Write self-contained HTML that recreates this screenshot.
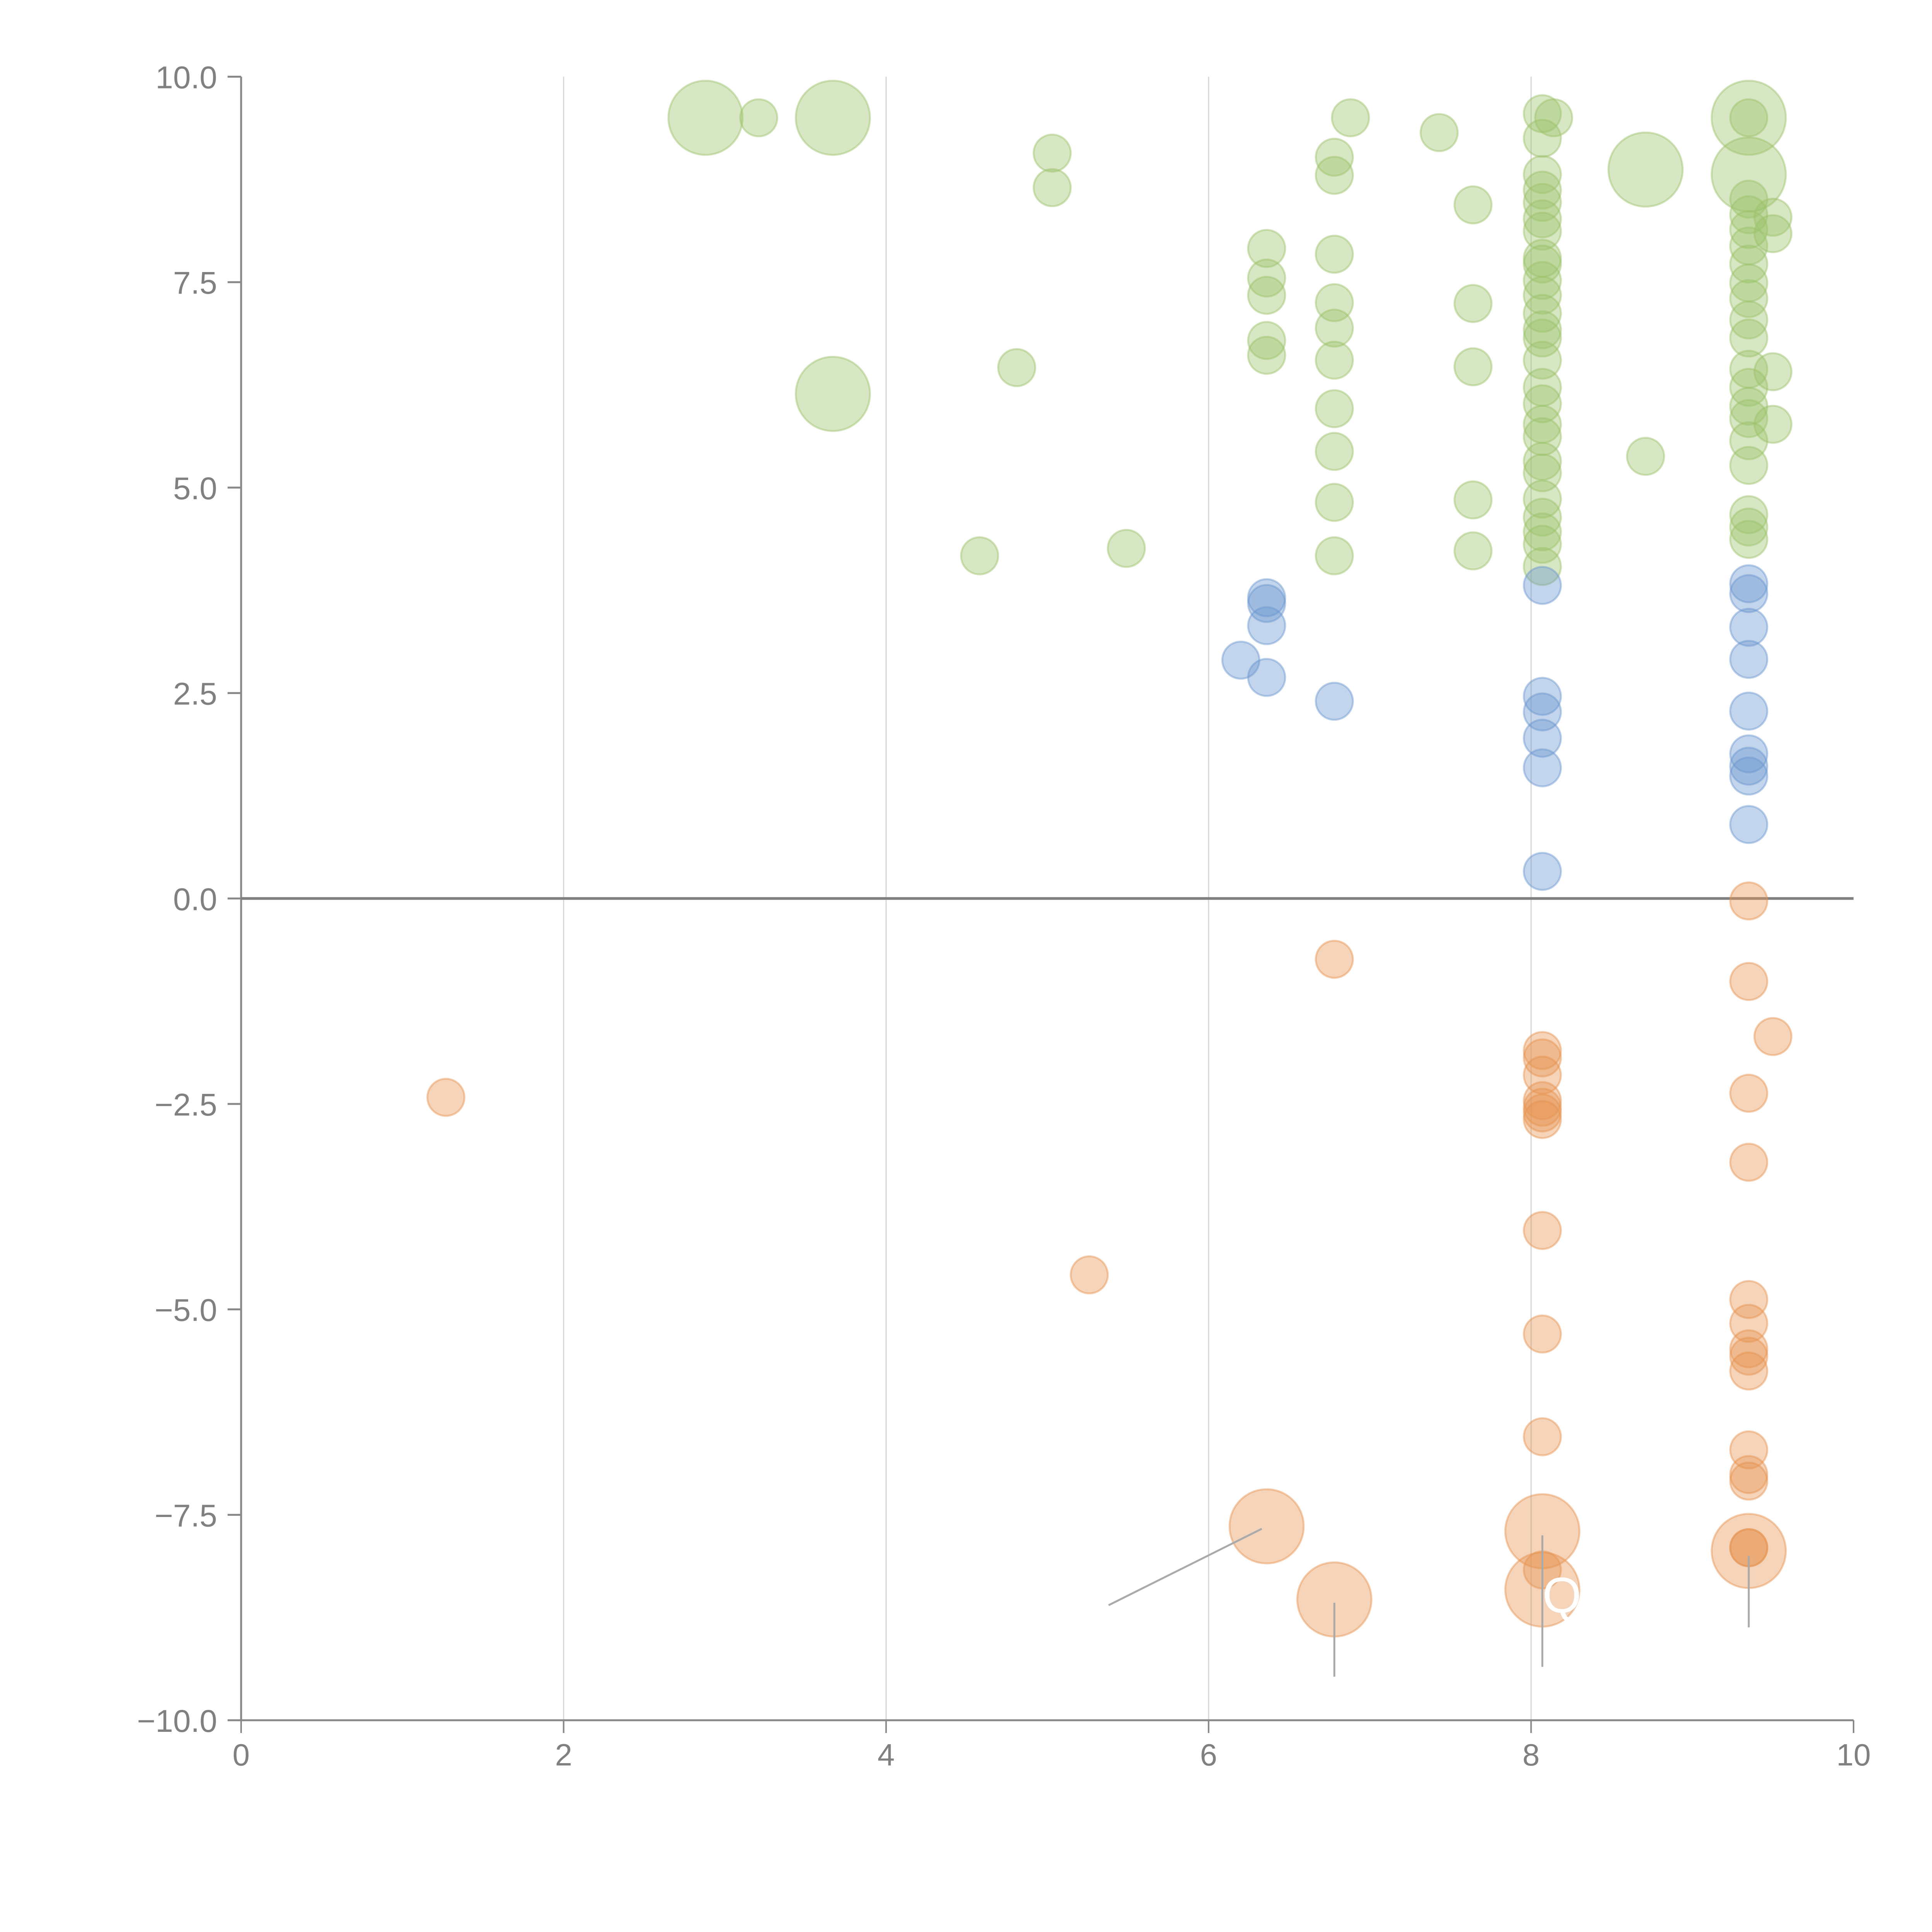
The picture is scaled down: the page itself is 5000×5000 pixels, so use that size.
<!DOCTYPE html>
<html><head><meta charset="utf-8"><style>html,body{margin:0;padding:0;background:#fff}svg{display:block}</style></head>
<body>
<svg id="chart" width="5000" height="5000" viewBox="0 0 5000 5000" xmlns="http://www.w3.org/2000/svg" font-family="Liberation Sans, sans-serif">
<g id="grid"></g>
<g id="axes"></g>
<g id="marks"></g>
<g id="labels"></g>
</svg>
<script>
const xTicks = [0, 2, 4, 6, 8, 10];
const yTicks = [10, 7.5, 5, 2.5, 0, -2.5, -5, -7.5, -10];
const yTickLabels = ["10.0", "7.5", "5.0", "2.5", "0.0", "\u22122.5", "\u22125.0", "\u22127.5", "\u221210.0"];
const greenX = [2.88,3.67,3.67,8.71,9.35,9.35,3.21,5.03,5.03,4.81,4.58,5.49,6.36,6.36,6.36,6.36,6.36,6.78,6.78,6.78,6.78,6.78,6.78,6.78,6.78,6.78,6.78,6.88,7.43,7.64,7.64,7.64,7.64,7.64,8.07,8.14,8.07,8.07,8.07,8.07,8.07,8.07,8.07,8.07,8.07,8.07,8.07,8.07,8.07,8.07,8.07,8.07,8.07,8.07,8.07,8.07,8.07,8.07,8.07,8.07,8.07,8.71,9.35,9.35,9.35,9.35,9.35,9.35,9.35,9.35,9.35,9.35,9.35,9.35,9.35,9.35,9.35,9.35,9.35,9.35,9.35,9.5,9.5,9.5,9.5];
const greenY = [9.50,9.50,6.14,8.87,9.50,8.81,9.50,9.07,8.65,6.46,4.17,4.26,7.91,7.55,7.34,6.79,6.61,9.02,8.80,7.84,7.25,6.94,6.55,5.96,5.44,4.82,4.17,9.50,9.32,8.44,7.24,6.47,4.85,4.23,9.55,9.50,9.25,8.81,8.62,8.47,8.27,8.12,7.79,7.72,7.52,7.34,7.12,6.92,6.82,6.55,6.22,6.02,5.77,5.62,5.32,5.18,4.86,4.64,4.46,4.31,4.04,5.38,9.50,8.51,8.32,8.14,7.94,7.72,7.49,7.30,7.04,6.82,6.44,6.22,5.99,5.84,5.57,5.27,4.67,4.52,4.37,8.29,8.09,6.41,5.77];
const greenSize = [4,4,4,4,4,4,1,1,1,1,1,1,1,1,1,1,1,1,1,1,1,1,1,1,1,1,1,1,1,1,1,1,1,1,1,1,1,1,1,1,1,1,1,1,1,1,1,1,1,1,1,1,1,1,1,1,1,1,1,1,1,1,1,1,1,1,1,1,1,1,1,1,1,1,1,1,1,1,1,1,1,1,1,1,1];
const blueX = [6.2,6.36,6.36,6.36,6.36,6.78,8.07,8.07,8.07,8.07,8.07,8.07,9.35,9.35,9.35,9.35,9.35,9.35,9.35,9.35,9.35];
const blueY = [2.90,3.66,3.59,3.32,2.69,2.40,3.81,2.46,2.27,1.95,1.59,0.33,3.83,3.71,3.30,2.91,2.28,1.76,1.61,1.49,0.90];
const blueSize = [1,1,1,1,1,1,1,1,1,1,1,1,1,1,1,1,1,1,1,1,1];
const orangeX = [1.27,5.26,6.78,8.07,8.07,8.07,8.07,8.07,8.07,8.07,8.07,8.07,8.07,8.07,9.35,9.35,9.5,9.35,9.35,9.35,9.35,9.35,9.35,9.35,9.35,9.35,9.35,9.35,9.35,6.36,6.78,8.07,8.07,9.35];
const orangeY = [-2.42,-4.58,-0.74,-1.85,-1.94,-2.15,-2.46,-2.54,-2.61,-2.69,-4.04,-5.30,-6.55,-8.17,-0.03,-1.01,-1.68,-2.37,-3.21,-4.88,-5.17,-5.48,-5.57,-5.75,-6.71,-7.01,-7.09,-7.90,-7.90,-7.64,-8.53,-7.70,-8.41,-7.94];
const orangeSize = [1,1,1,1,1,1,1,1,1,1,1,1,1,1,1,1,1,1,1,1,1,1,1,1,1,1,1,1,1,4,4,4,4,4];
const leaderFrom = [[5.38,-8.60],[6.78,-9.47],[8.07,-9.35],[9.35,-8.87]];
const leaderTo = [[6.33,-7.67],[6.78,-8.57],[8.07,-7.75],[9.35,-8.00]];

const NS = "http://www.w3.org/2000/svg";
const X0 = 624, X1 = 4797, YT = 198.5, YB = 4452;
function sx(v){ return X0 + (v - 0) / 10 * (X1 - X0); }
function sy(v){ return YT + (10 - v) / 20 * (YB - YT); }
function mk(tag, attrs, parent){ const e = document.createElementNS(NS, tag); for (const k in attrs) e.setAttribute(k, attrs[k]); parent.appendChild(e); return e; }

const grid = document.getElementById('grid'), axes = document.getElementById('axes'), marks = document.getElementById('marks'), labels = document.getElementById('labels');
xTicks.forEach(t => {
  if (t > 0 && t < 10) {
    const g = mk('line', {x1: sx(t), x2: sx(t), y1: YT, y2: YB, stroke: '#d6d6d6', 'stroke-width': 3}, grid);
    
    
  }
  const tk = mk('line', {x1: sx(t), x2: sx(t), y1: YB, y2: YB + 33, stroke: '#888', 'stroke-width': 4}, axes);
  
  
  const tx = mk('text', {x: sx(t), y: YB + 117, 'text-anchor': 'middle', 'font-size': 80, fill: '#808080'}, axes);
  tx.textContent = t;
  
  
});
yTicks.forEach((t, i) => {
  const tk = mk('line', {x1: X0 - 35, x2: X0, y1: sy(t), y2: sy(t), stroke: '#888', 'stroke-width': 5}, axes);
  
  
  const tx = mk('text', {x: X0 - 62, y: sy(t) + 30, 'text-anchor': 'end', 'font-size': 82, fill: '#808080'}, axes);
  tx.textContent = yTickLabels[i];
  
  
});
const ya = mk('line', {x1: X0, x2: X0, y1: YT, y2: YB, stroke: '#888', 'stroke-width': 5}, axes);


const xa = mk('line', {x1: X0, x2: X1, y1: YB, y2: YB, stroke: '#888', 'stroke-width': 5}, axes);


const zl = mk('line', {x1: X0, x2: X1, y1: sy(0), y2: sy(0), stroke: '#808080', 'stroke-width': 7}, axes);



function series(xs, ys, ss, color, name){
  xs.forEach((x, i) => {
    const c = mk('circle', {cx: sx(x), cy: sy(ys[i]), r: 48 * Math.sqrt(ss[i]), fill: color, 'fill-opacity': 0.4, stroke: color, 'stroke-opacity': 0.45, 'stroke-width': 5}, marks);
    
    
  });
}
series(greenX, greenY, greenSize, '#9cc26a', 'green-bubble');
series(blueX, blueY, blueSize, '#6a96d0', 'blue-bubble');
series(orangeX, orangeY, orangeSize, '#e6934f', 'orange-bubble');

leaderFrom.forEach((p, i) => {
  const l = mk('line', {x1: sx(p[0]), y1: sy(p[1]), x2: sx(leaderTo[i][0]), y2: sy(leaderTo[i][1]), stroke: '#aaa', 'stroke-width': 5}, labels);
  
  
});
const q = mk('text', {x: sx(8.07) + 0, y: sy(-8.5) + 40, 'font-size': 130, fill: '#fff'}, labels);
q.textContent = 'Q';


</script>
</body></html>
